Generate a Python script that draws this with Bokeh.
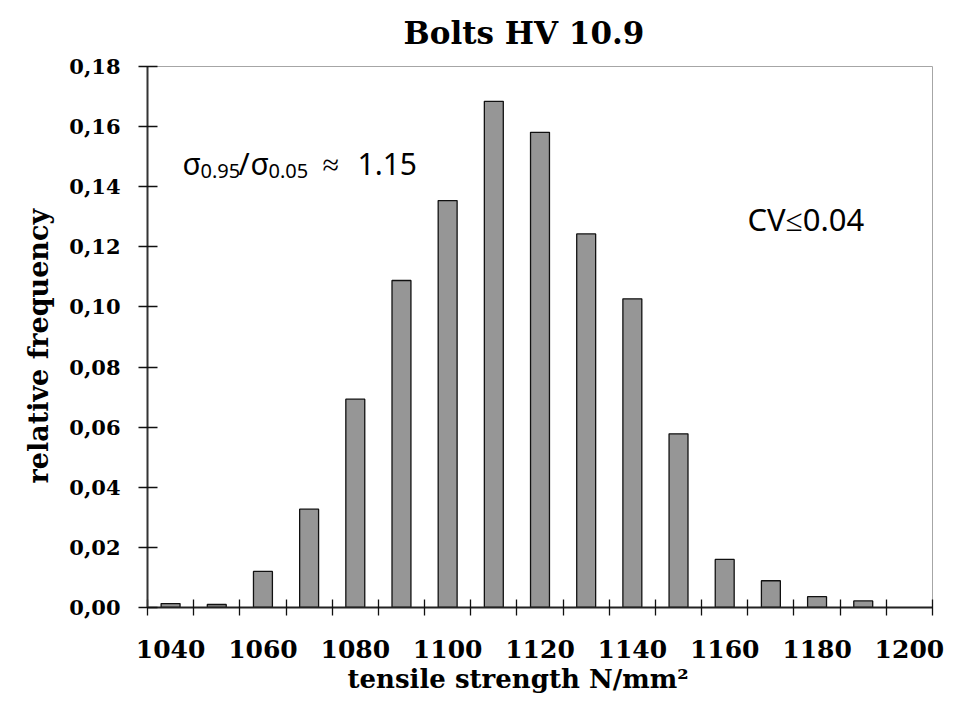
from bokeh.plotting import figure
from bokeh.models import FixedTicker, CustomJSTickFormatter, Label, Range1d, Title
from bokeh.embed import file_html
from bokeh.resources import INLINE

# Histogram of tensile strength, class mid-points in N/mm^2
strength = [1040, 1050, 1060, 1070, 1080, 1090, 1100, 1110,
            1120, 1130, 1140, 1150, 1160, 1170, 1180, 1190]
rel_freq = [0.0013, 0.0010, 0.0120, 0.0327, 0.0693, 0.1088, 0.1354, 0.1684,
            0.1581, 0.1243, 0.1027, 0.0578, 0.0160, 0.0089, 0.0036, 0.0022]

x_labels = [1040, 1060, 1080, 1100, 1120, 1140, 1160, 1180, 1200]
y_ticks = [0.00, 0.02, 0.04, 0.06, 0.08, 0.10, 0.12, 0.14, 0.16, 0.18]
class_width = 10

title_text = "Bolts HV 10.9"
x_title = "tensile strength N/mm²"
y_title = "relative frequency"

SERIF = "DejaVu Serif"
SANS = "Noto Sans"

# class boundaries carry the tick marks; labels sit on every second class
edges = [s - class_width / 2 for s in strength] + [x_labels[-1] - class_width / 2,
                                                    x_labels[-1] + class_width / 2]

p = figure(width=964, height=703, output_backend="svg", toolbar_location=None,
           x_range=Range1d(edges[0], edges[-1]), y_range=Range1d(0, 0.18),
           min_border_left=147, min_border_right=32,
           min_border_top=66, min_border_bottom=96)

p.vbar(x=strength, top=rel_freq, width=class_width * 0.41,
       fill_color="#969696", line_color="#111111", line_width=1.3)

p.grid.visible = False
p.outline_line_color = "#a6a6a6"
p.outline_line_width = 1
p.background_fill_color = "white"
p.border_fill_color = "white"

# x axis
xa = p.xaxis[0]
xa.ticker = FixedTicker(ticks=x_labels, minor_ticks=edges)
xa.major_tick_line_color = None
xa.major_tick_in = 0
xa.major_tick_out = 8
xa.minor_tick_line_color = "#111111"
xa.minor_tick_line_width = 1.3
xa.minor_tick_in = 8
xa.minor_tick_out = 8
xa.axis_line_color = "#222222"
xa.axis_line_width = 2
xa.major_label_standoff = 24
xa.major_label_text_font = SERIF
xa.major_label_text_font_style = "bold"
xa.major_label_text_font_size = "25px"
xa.major_label_text_color = "black"

# y axis
ya = p.yaxis[0]
ya.ticker = FixedTicker(ticks=y_ticks)
ya.formatter = CustomJSTickFormatter(code="return tick.toFixed(2).replace('.', ',');")
ya.minor_tick_line_color = None
ya.major_tick_in = 10
ya.major_tick_out = 9
ya.major_tick_line_color = "#111111"
ya.major_tick_line_width = 1.3
ya.axis_line_color = "#333333"
ya.axis_line_width = 2
ya.major_label_standoff = 18
ya.major_label_text_font = SERIF
ya.major_label_text_font_style = "bold"
ya.major_label_text_font_size = "21px"
ya.major_label_text_color = "black"

# chart and axis titles
p.add_layout(Title(text=title_text, align="left", offset=256, standoff=27,
                   vertical_align="top",
                   text_font=SERIF, text_font_style="bold", text_font_size="31px",
                   text_color="black"), "above")
p.add_layout(Title(text=x_title, align="left", offset=200, standoff=2,
                   text_font=SERIF, text_font_style="bold", text_font_size="26px",
                   text_color="black"), "below")
p.add_layout(Title(text=y_title, align="left", offset=124, standoff=26,
                   text_font=SERIF, text_font_style="bold", text_font_size="27px",
                   text_color="black"), "left")

# quantile ratio annotation, with subscripts (screen units from the frame's lower-left)
main_y = 444
sub_y = 437
pieces = [
    ("σ", 35, main_y, "30px"),
    ("0.95", 53, sub_y, "20px"),
    ("/", 91, main_y, "30px"),
    ("σ", 103, main_y, "30px"),
    ("0.05", 121, sub_y, "20px"),
    ("≈", 175, main_y, "30px"),
    ("1.15", 210, main_y, "30px"),
]
for txt, sx, sy, size in pieces:
    p.add_layout(Label(x=sx, y=sy, x_units="screen", y_units="screen", text=txt,
                       text_font=SANS, text_font_size=size,
                       text_align="left", text_baseline="alphabetic",
                       text_color="black"))

p.add_layout(Label(x=600, y=389, x_units="screen", y_units="screen", text="CV≤0.04",
                   text_font=SANS, text_font_size="31px",
                   text_align="left", text_baseline="alphabetic", text_color="black"))

open("out.html", "w").write(file_html(p, INLINE))
